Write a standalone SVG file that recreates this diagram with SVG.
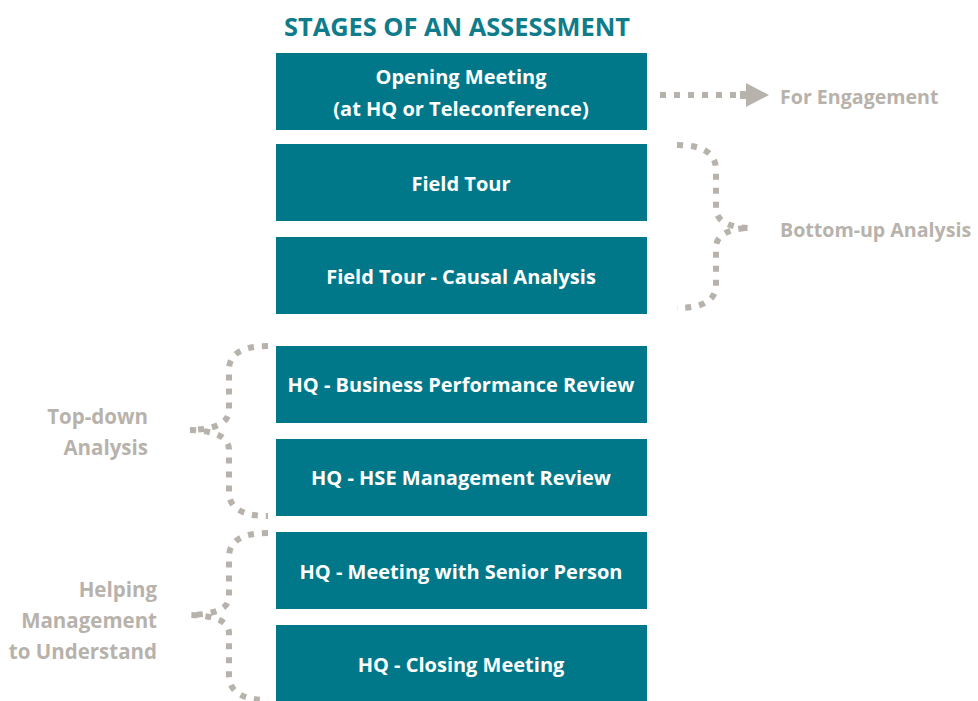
<svg xmlns="http://www.w3.org/2000/svg" width="978" height="701" viewBox="0 0 978 701">
<style>
.box{fill:#00788A}
.bt{font-family:"Open Sans","Liberation Sans",sans-serif;font-weight:bold;font-size:20px;fill:#fff;text-anchor:middle}
.lbl{font-family:"Open Sans","Liberation Sans",sans-serif;font-weight:bold;font-size:20.5px;fill:#B7B2AB}
.rl{font-size:19.6px}
.dash{fill:none;stroke:#B7B2AB;stroke-width:6;stroke-dasharray:6 8}
.title{font-family:"Open Sans","Liberation Sans",sans-serif;font-weight:bold;font-size:25.4px;fill:#0E7C8A;text-anchor:middle}
</style>
<rect width="978" height="701" fill="#fff"/>
<text class="title" x="457" y="36">STAGES OF AN ASSESSMENT</text>
<g id="n1"><rect class="box" x="276" y="53" width="371" height="77"/><text class="bt" x="461" y="84">Opening Meeting</text><text class="bt" x="461" y="116">(at HQ or Teleconference)</text></g>
<g id="n2"><rect class="box" x="276" y="144" width="371" height="77"/><text class="bt" x="461" y="191">Field Tour</text></g>
<g id="n3"><rect class="box" x="276" y="237" width="371" height="77"/><text class="bt" x="461" y="284">Field Tour - Causal Analysis</text></g>
<g id="n4"><rect class="box" x="276" y="346" width="371" height="77"/><text class="bt" x="461" y="392">HQ - Business Performance Review</text></g>
<g id="n5"><rect class="box" x="276" y="439" width="371" height="77"/><text class="bt" x="461" y="485">HQ - HSE Management Review</text></g>
<g id="n6"><rect class="box" x="276" y="532" width="371" height="77"/><text class="bt" x="461" y="579">HQ - Meeting with Senior Person</text></g>
<g id="n7"><rect class="box" x="276" y="625" width="371" height="77"/><text class="bt" x="461" y="672">HQ - Closing Meeting</text></g>
<g id="labels">
<text class="lbl rl" x="780" y="104">For Engagement</text>
<text class="lbl rl" x="780" y="237">Bottom-up Analysis</text>
<text class="lbl" x="148" y="424" text-anchor="end">Top-down</text>
<text class="lbl" x="148" y="455" text-anchor="end">Analysis</text>
<text class="lbl" x="157" y="597" text-anchor="end">Helping</text>
<text class="lbl" x="157" y="628" text-anchor="end">Management</text>
<text class="lbl" x="157" y="659" text-anchor="end">to Understand</text>
</g>
<g id="connectors">
<path class="dash" d="M660 95 L742 95"/>
<polygon points="740,91 746,91 746,83 769,95 746,107 746,99 740,99" fill="#B7B2AB"/>
<path class="dash" d="M677 145 Q716 145 716 170 L716 208 Q716 227 750 228 Q716 229 716 248 L716 285 Q716 308 677 308"/>
<path class="dash" d="M268 346 Q229 346 229 370 L229 410 Q229 429 190 430 Q229 431 229 450 L229 492 Q229 516 268 516"/>
<path class="dash" d="M268 533 Q229 533 229 557 L229 597 Q229 614 190 615 Q229 616 229 633 L229 675 Q229 700 268 700"/>
</g>
</svg>
